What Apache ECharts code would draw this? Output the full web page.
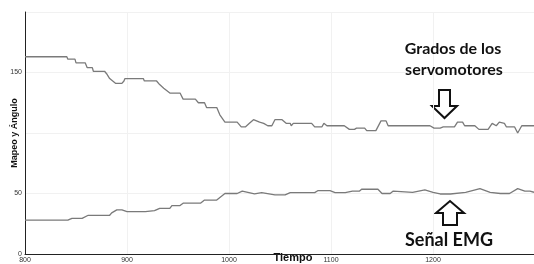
<!DOCTYPE html>
<html>
<head>
<meta charset="utf-8">
<script src="https://cdn.jsdelivr.net/npm/echarts@6/dist/echarts.min.js"></script>
<style>
  html, body { margin: 0; padding: 0; background: #fff; }
  #chart { width: 534px; height: 264px; }
</style>
</head>
<body>
<div id="chart"></div>
<script>
// Grados de los servomotores (curva superior)
const upperTime = [800, 841, 842, 849, 850, 859, 861, 866, 867, 878, 880, 883, 889, 895, 897, 898, 916, 917, 929, 932, 936, 942, 952, 955, 967, 970, 976, 978, 988, 991, 996, 1008, 1012, 1016, 1020, 1024, 1030, 1034, 1038, 1042, 1045, 1052, 1056, 1060, 1061, 1063, 1081, 1084, 1091, 1093, 1096, 1113, 1118, 1123, 1125, 1133, 1135, 1144, 1149, 1154, 1156, 1158, 1197, 1201, 1207, 1210, 1221, 1224, 1229, 1231, 1241, 1245, 1254, 1258, 1262, 1265, 1270, 1272, 1280, 1283, 1287, 1299]
const upperValue = [163, 163, 161, 161, 158, 158, 154, 154, 151, 151, 149, 145, 141, 141, 143, 145, 145, 143, 143, 140, 137, 133, 133, 128, 128, 125, 125, 121, 121, 115, 109, 109, 105, 105, 108, 111, 109, 108, 106, 106, 111, 111, 108, 108, 106, 108, 108, 105, 105, 108, 106, 106, 103, 103, 104, 104, 102, 102, 110, 110, 106, 106, 106, 104, 104, 105, 105, 109, 109, 106, 106, 103, 103, 108, 106, 109, 108, 105, 105, 100, 106, 106]

// Señal EMG (curva inferior)
const lowerTime = [800, 842, 846, 856, 862, 883, 885, 890, 895, 900, 918, 927, 932, 942, 944, 952, 955, 972, 976, 988, 996, 1008, 1013, 1025, 1032, 1045, 1055, 1060, 1084, 1087, 1099, 1104, 1114, 1121, 1128, 1130, 1146, 1150, 1158, 1161, 1180, 1192, 1200, 1207, 1217, 1232, 1246, 1256, 1266, 1275, 1283, 1290, 1295, 1299]
const lowerValue = [28, 28, 29.5, 29.5, 32, 32, 34, 36.5, 36.5, 35, 35, 35.8, 37.7, 37.7, 40, 40, 42, 42, 44.6, 44.6, 50, 50, 52, 49.6, 50.7, 48.8, 48.8, 50.7, 50.7, 52.3, 52.3, 50.7, 50.7, 52, 52, 53.5, 53.5, 50, 50, 52, 51, 53, 51, 49.6, 49.6, 51, 54, 51, 50, 50, 54, 52, 52, 51]

const xTicks = [800, 900, 1000, 1100, 1200]
const yTickLabels = [0, 50, 150]

const chart = echarts.init(document.getElementById('chart'))

const lineStyle = { color: '#7a7a7a', width: 1.3 }
const noteFont = { align: 'center', verticalAlign: 'middle', fontFamily: 'Lato', fontWeight: 'bold', fill: '#111' }

chart.setOption({
  animation: false,
  backgroundColor: '#fff',
  grid: { left: 25, right: 0, top: 12, bottom: 10, containLabel: false, outerBoundsMode: 'none' },
  xAxis: {
    type: 'value',
    min: 800,
    max: 1299,
    interval: 100,
    name: 'Tiempo',
    nameLocation: 'middle',
    nameGap: -2,
    nameMoveOverlap: false,
    nameTextStyle: { fontFamily: 'Liberation Sans', fontWeight: 'bold', fontSize: 11, color: '#111', padding: [0, 0, 0, 27] },
    axisLine: { lineStyle: { color: '#222', width: 1 } },
    axisTick: { show: false },
    axisLabel: {
      fontSize: 7, color: '#333', margin: 3, fontFamily: 'Liberation Sans',
      formatter: v => xTicks.includes(v) ? String(v) : ''
    },
    splitLine: { show: true, lineStyle: { color: '#f1f1f1', width: 1 } }
  },
  yAxis: {
    type: 'value',
    min: 0,
    max: 200,
    interval: 50,
    name: 'Mapeo y Ángulo',
    nameLocation: 'middle',
    nameGap: 6,
    nameMoveOverlap: false,
    nameTextStyle: { fontFamily: 'Liberation Sans', fontWeight: 'bold', fontSize: 9, color: '#111' },
    axisLine: { show: true, lineStyle: { color: '#222', width: 1 } },
    axisTick: { show: false },
    axisLabel: {
      fontSize: 7, color: '#333', margin: 3, fontFamily: 'Liberation Sans',
      formatter: v => yTickLabels.includes(v) ? String(v) : ''
    },
    splitLine: { show: true, lineStyle: { color: '#f1f1f1', width: 1 } }
  },
  series: [
    {
      name: 'Grados de los servomotores',
      type: 'line',
      showSymbol: false,
      lineStyle: lineStyle,
      data: upperTime.map((t, i) => [t, upperValue[i]])
    },
    {
      name: 'Señal EMG',
      type: 'line',
      showSymbol: false,
      lineStyle: lineStyle,
      data: lowerTime.map((t, i) => [t, lowerValue[i]])
    }
  ],
  graphic: [
    { type: 'text', x: 453, y: 49, z: 100, style: Object.assign({ text: 'Grados de los', fontSize: 16 }, noteFont) },
    { type: 'text', x: 454, y: 70, z: 100, style: Object.assign({ text: 'servomotores', fontSize: 16 }, noteFont) },
    {
      type: 'polygon',
      shape: { points: [[439, 90], [450, 90], [450, 106], [457, 106], [444.5, 118], [432, 106], [439, 106]] },
      style: { fill: '#fff', stroke: '#111', lineWidth: 2 }
    },
    {
      type: 'polygon',
      shape: { points: [[443, 225], [457, 225], [457, 213], [464, 213], [450, 201], [436, 213], [443, 213]] },
      style: { fill: '#fff', stroke: '#111', lineWidth: 2 }
    },
    { type: 'text', x: 449, y: 240, z: 100, style: Object.assign({ text: 'Señal EMG', fontSize: 18 }, noteFont) }
  ]
})
</script>
</body>
</html>
